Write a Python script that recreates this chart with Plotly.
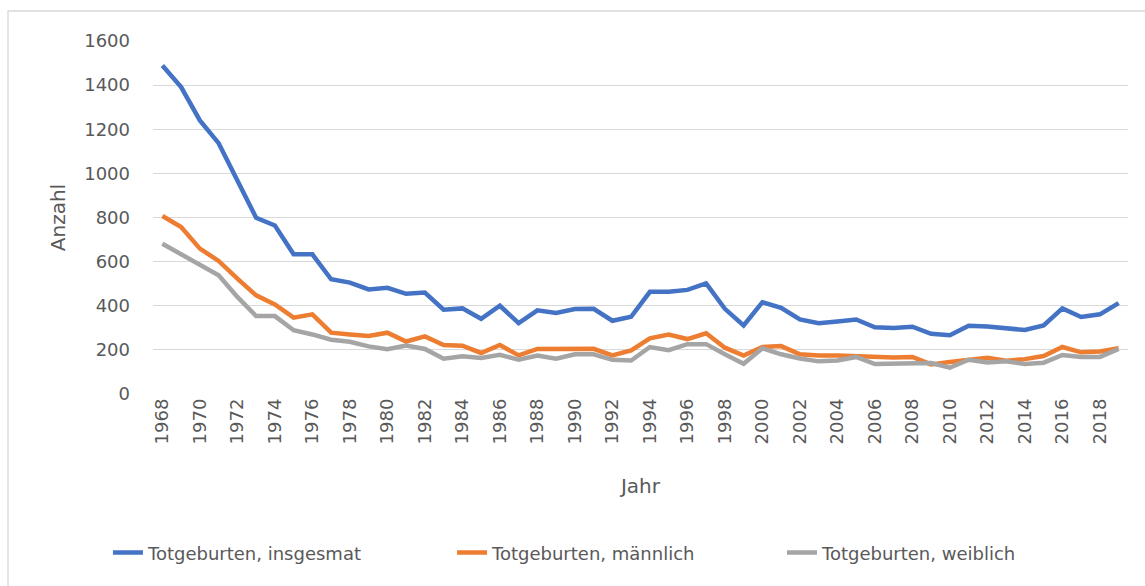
import plotly.graph_objects as go

years = list(range(1968, 2020))

insgesamt = [1489, 1391, 1240, 1137, 968, 799, 764, 633, 633, 520, 505, 474, 481,
             454, 460, 382, 388, 341, 400, 321, 379, 367, 385, 386, 332, 350,
             463, 463, 472, 501, 386, 311, 416, 391, 338, 321, 329, 338, 302,
             299, 305, 273, 266, 309, 306, 297, 290, 311, 388, 349, 361, 412]

maennlich = [807, 757, 659, 603, 523, 447, 406, 346, 361, 278, 270, 263, 278,
             238, 261, 222, 219, 186, 222, 175, 204, 204, 205, 205, 175, 198,
             252, 269, 249, 275, 210, 174, 213, 217, 180, 174, 174, 171, 168,
             166, 168, 134, 145, 157, 164, 151, 158, 172, 213, 189, 193, 207]

weiblich = [681, 633, 583, 538, 440, 353, 353, 289, 270, 246, 237, 216, 203,
            220, 204, 160, 171, 163, 178, 155, 174, 160, 180, 180, 155, 152,
            213, 199, 226, 226, 180, 137, 207, 180, 161, 148, 152, 168, 136,
            136, 137, 140, 119, 155, 143, 148, 136, 142, 177, 168, 168, 204]

series_names = ["Totgeburten, insgesmat", "Totgeburten, männlich", "Totgeburten, weiblich"]
series_colors = ["#4472C4", "#ED7D31", "#A5A5A5"]
x_ticks = list(range(1968, 2019, 2))
y_ticks = list(range(0, 1601, 200))

FONT = "DejaVu Sans"
TXT = "#595959"

legend_ids = ["legend", "legend2", "legend3"]
legend_x = [-0.0462, 0.3067, 0.6451]

fig = go.Figure()
for name, vals, col, lid in zip(series_names, [insgesamt, maennlich, weiblich], series_colors, legend_ids):
    fig.add_trace(go.Scatter(x=years, y=vals, mode="lines", name=name, legend=lid,
                             line=dict(color=col, width=4.5)))

legend_layout = {}
for lid, lx in zip(legend_ids, legend_x):
    legend_layout[lid] = dict(orientation="h", x=lx, xanchor="left", y=-0.45, yanchor="middle",
                              font=dict(family=FONT, size=18, color=TXT),
                              bgcolor="rgba(0,0,0,0)")

fig.update_layout(
    width=1145, height=586,
    margin=dict(l=153, r=17, t=41, b=192),
    paper_bgcolor="white", plot_bgcolor="white",
    font=dict(family=FONT, size=18, color=TXT),
    showlegend=True,
    xaxis=dict(range=[1967.5, 2019.5], tickmode="array", tickvals=x_ticks,
               ticktext=[str(t) for t in x_ticks], tickangle=-90,
               showgrid=False, zeroline=False, showline=False, ticks="",
               tickfont=dict(family=FONT, size=18, color=TXT),
               title=dict(text="Jahr", font=dict(family=FONT, size=20, color=TXT), standoff=35)),
    yaxis=dict(range=[0, 1600], tickmode="array", tickvals=y_ticks,
               showgrid=True, gridcolor="#D9D9D9", gridwidth=1.3, zeroline=False,
               showline=False, ticks="", ticklabelstandoff=22,
               tickfont=dict(family=FONT, size=18, color=TXT),
               title=dict(text="Anzahl", font=dict(family=FONT, size=20, color=TXT), standoff=13)),
    **legend_layout,
)

fig.add_shape(type="rect", xref="paper", yref="paper",
              x0=-0.1487, x1=1.2, y0=-0.7, y1=1.085,
              line=dict(color="#D9D9D9", width=1.3), fillcolor="rgba(0,0,0,0)", layer="below")

fig.write_html("out.html", config={"displayModeBar": False},
               post_script="document.body.style.margin='0';document.body.style.padding='0';")
